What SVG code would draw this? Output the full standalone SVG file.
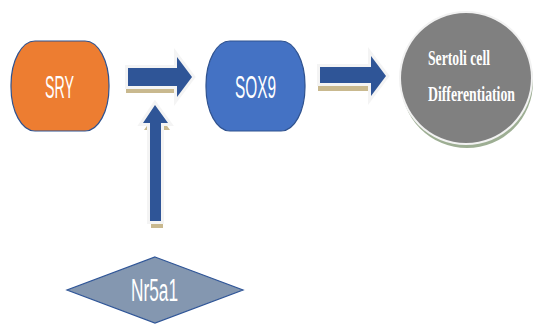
<svg xmlns="http://www.w3.org/2000/svg" width="542" height="326" viewBox="0 0 542 326">
<style>
.lbl{font-family:"Liberation Sans",Arial,sans-serif;fill:#fff;font-size:31px;text-anchor:middle}
.ser{font-family:"Liberation Serif","Times New Roman",serif;fill:#fff;font-size:22px;font-weight:bold}
.shadow{fill:#C9B98F}
.glow{fill:#fff;stroke:#F4F4F4;stroke-width:6;stroke-linejoin:miter}
.arr{fill:#2F5597}
</style>
<rect width="542" height="326" fill="#fff"/>
<g id="connectors">
  <g id="arrow-sry-sox9">
    <polygon class="shadow" points="126,75 174,75 174,64 190,83 174,103 174,93 126,93"/>
    <polygon class="glow" points="128,68 177,68 177,57 192,77 177,97 177,86 128,86"/>
    <polygon class="arr" points="128,68 177,68 177,57 192,77 177,97 177,86 128,86"/>
  </g>
  <g id="arrow-sox9-sertoli">
    <polygon class="shadow" points="318,74 370,74 370,63 384,82 370,101 370,91 318,91"/>
    <polygon class="glow" points="320,67 371,67 371,56 386,76 371,96 371,83 320,83"/>
    <polygon class="arr" points="320,67 371,67 371,56 386,76 371,96 371,83 320,83"/>
  </g>
  <g id="arrow-nr5a1">
    <polygon class="shadow" points="151,228 151,130 144,130 157,112 170,130 163,130 163,228"/>
    <polygon class="glow" points="150,221 150,123 143,123 155,105 168,123 161,123 161,221"/>
    <polygon class="arr" points="150,221 150,123 143,123 155,105 168,123 161,123 161,221"/>
  </g>
</g>
<g id="node-sry">
  <rect x="11" y="41" width="98" height="90" rx="24" ry="44" fill="#ED7D31" stroke="#2F528F" stroke-width="1.2"/>
  <text class="lbl" x="59.5" y="98" textLength="29" lengthAdjust="spacingAndGlyphs">SRY</text>
</g>
<g id="node-sox9">
  <rect x="206" y="41" width="99" height="90" rx="24" ry="44" fill="#4472C4" stroke="#2F528F" stroke-width="1.2"/>
  <text class="lbl" x="255.5" y="98" textLength="41" lengthAdjust="spacingAndGlyphs">SOX9</text>
</g>
<g id="node-sertoli">
  <circle cx="467" cy="82" r="66" fill="#9DAE93"/>
  <circle cx="466" cy="78" r="67" fill="#F2F2F2"/>
  <circle cx="466" cy="78" r="65" fill="#808080"/>
  <text class="ser" x="428" y="65" textLength="62" lengthAdjust="spacingAndGlyphs">Sertoli cell</text>
  <text class="ser" x="428" y="101" textLength="87" lengthAdjust="spacingAndGlyphs">Differentiation</text>
</g>
<g id="node-nr5a1">
  <polygon points="155,257 243,290 155,323 67,290" fill="#8497B0" stroke="#2F5597" stroke-width="1.2"/>
  <text class="lbl" x="154.5" y="301" textLength="47" lengthAdjust="spacingAndGlyphs">Nr5a1</text>
</g>
</svg>
